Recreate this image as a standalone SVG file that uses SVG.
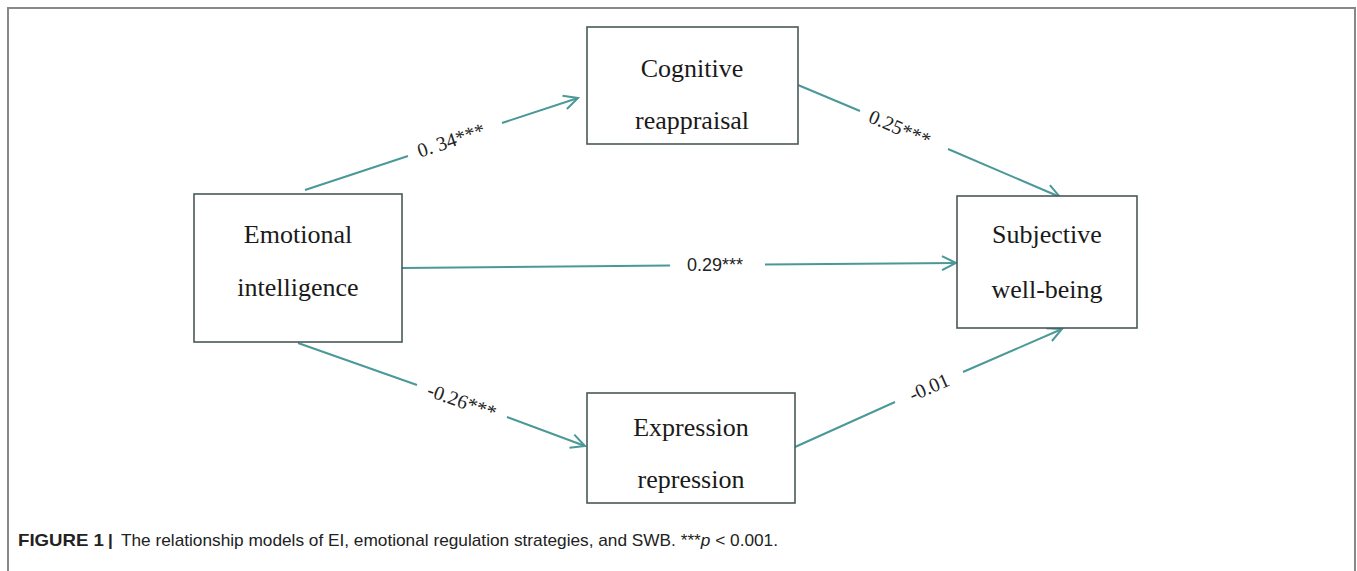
<svg xmlns="http://www.w3.org/2000/svg" width="1357" height="571" viewBox="0 0 1357 571">
<style>
.box{fill:#fff;stroke:#4a5858;stroke-width:1.6}
.nt{font-family:"Liberation Serif","Times New Roman",serif;font-size:26px;fill:#1a1a1a;text-anchor:middle}
.lab{font-family:"Liberation Serif","Times New Roman",serif;font-size:20px;fill:#222;text-anchor:middle}
.lab2{font-family:"Liberation Sans",Arial,sans-serif;font-size:18px;fill:#222;text-anchor:middle}
.con{stroke:#4b9898;stroke-width:2;fill:none}
.cap{font-family:"Liberation Sans",Arial,sans-serif;font-size:17px;fill:#222}
</style>
<defs>
<marker id="ah" viewBox="0 0 20 20" refX="18" refY="10" markerWidth="20" markerHeight="20" markerUnits="userSpaceOnUse" orient="auto">
<path d="M4,3 L18,10 L4,17" fill="none" stroke="#4b9898" stroke-width="2"/>
</marker>
</defs>
<rect x="8" y="8" width="1347" height="620" fill="#fff" stroke="#888" stroke-width="2"/>
<g id="connectors">
<line class="con" x1="305" y1="190" x2="408" y2="156"/>
<line class="con" x1="502" y1="123" x2="578" y2="98" marker-end="url(#ah)"/>
<line class="con" x1="798" y1="85" x2="860" y2="111"/>
<line class="con" x1="948" y1="149" x2="1060" y2="197" marker-end="url(#ah)"/>
<line class="con" x1="402" y1="268" x2="670" y2="265.5"/>
<line class="con" x1="765" y1="264.5" x2="956" y2="263" marker-end="url(#ah)"/>
<line class="con" x1="298" y1="343" x2="417" y2="385"/>
<line class="con" x1="507" y1="417" x2="585" y2="446" marker-end="url(#ah)"/>
<line class="con" x1="795" y1="447" x2="895" y2="402"/>
<line class="con" x1="963" y1="372" x2="1062" y2="329" marker-end="url(#ah)"/>
<text class="lab" transform="translate(451,140) rotate(-18.6)" dy="0.35em">0. 34***</text>
<text class="lab" transform="translate(900,128) rotate(23.2)" dy="0.35em">0.25***</text>
<text class="lab2" transform="translate(715,265)" dy="0.35em">0.29***</text>
<text class="lab" transform="translate(462,401) rotate(19.7)" dy="0.35em">-0.26***</text>
<text class="lab" transform="translate(929,387) rotate(-23.8)" dy="0.35em">-0.01</text>
</g>
<g id="emotional-intelligence">
<rect class="box" x="194" y="194" width="208" height="148"/>
<text class="nt" x="298" y="243">Emotional</text>
<text class="nt" x="298" y="296">intelligence</text>
</g>
<g id="cognitive-reappraisal">
<rect class="box" x="587" y="27" width="211" height="117"/>
<text class="nt" x="692" y="77">Cognitive</text>
<text class="nt" x="692" y="129">reappraisal</text>
</g>
<g id="subjective-well-being">
<rect class="box" x="957" y="196" width="180" height="132"/>
<text class="nt" x="1047" y="243">Subjective</text>
<text class="nt" x="1047" y="298">well-being</text>
</g>
<g id="expression-repression">
<rect class="box" x="587" y="393" width="208" height="110"/>
<text class="nt" x="691" y="436">Expression</text>
<text class="nt" x="691" y="488">repression</text>
</g>
<g id="caption">
<text class="cap" x="18" y="546" font-weight="bold" textLength="86" lengthAdjust="spacingAndGlyphs">FIGURE 1</text>
<text class="cap" x="108" y="546" font-weight="bold">|</text>
<text class="cap" x="121" y="546" textLength="657" lengthAdjust="spacingAndGlyphs">The relationship models of EI, emotional regulation strategies, and SWB. ***<tspan font-style="italic">p</tspan> &lt; 0.001.</text>
</g>
</svg>
